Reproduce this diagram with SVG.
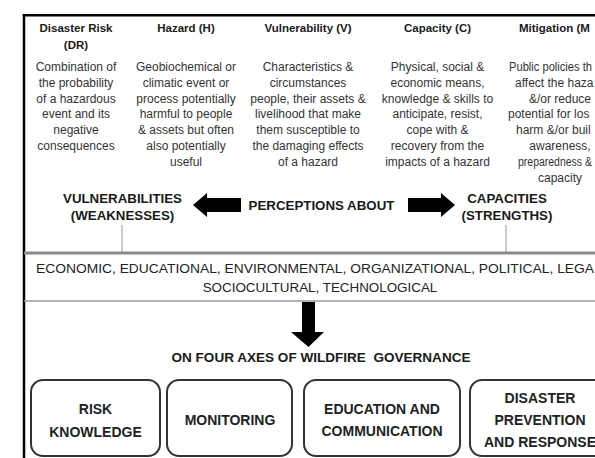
<svg xmlns="http://www.w3.org/2000/svg" width="595" height="458" viewBox="0 0 595 458">
<style>
text{font-family:"Liberation Sans",Arial,sans-serif;}
.t{font-size:11.5px;font-weight:bold;fill:#1a1a1a;text-anchor:middle;}
.d{font-size:12px;fill:#333;text-anchor:middle;}
.ds{font-size:12px;fill:#333;text-anchor:start;}
.h{font-size:13.3px;font-weight:bold;fill:#1a1a1a;text-anchor:middle;}
.b{font-size:13.4px;fill:#222;}
.bx{font-size:14px;font-weight:bold;fill:#222;text-anchor:middle;}
.box{fill:#fff;stroke:#333;stroke-width:2;}
.frame{stroke:#000;stroke-width:2.5;fill:none;}
.gl{stroke:#999;stroke-width:1;}
.arr{fill:#000;}
</style>
<rect width="595" height="458" fill="#fff"/>
<g id="frame">
<line class="frame" x1="22.8" y1="15.3" x2="595" y2="15.3"/>
<line class="frame" x1="24" y1="14" x2="24" y2="458"/>
<line x1="24" y1="253" x2="595" y2="253" stroke="#8a8a8a" stroke-width="3"/>
<line x1="24" y1="301" x2="595" y2="301" stroke="#9a9a9a" stroke-width="1.5"/>
</g>
<g id="col-dr">
<text class="t" x="76" y="32">Disaster Risk</text>
<text class="t" x="76" y="48.5">(DR)</text>
<text class="d" x="76" y="71">Combination of</text>
<text class="d" x="76" y="86.8">the probability</text>
<text class="d" x="76" y="102.6">of a hazardous</text>
<text class="d" x="76" y="118.4">event and its</text>
<text class="d" x="76" y="134.2">negative</text>
<text class="d" x="76" y="150">consequences</text>
</g>
<g id="col-h">
<text class="t" x="186" y="32">Hazard (H)</text>
<text class="d" x="186" y="71">Geobiochemical or</text>
<text class="d" x="186" y="86.8">climatic event or</text>
<text class="d" x="186" y="102.6">process potentially</text>
<text class="d" x="186" y="118.4">harmful to people</text>
<text class="d" x="186" y="134.2">&amp; assets but often</text>
<text class="d" x="186" y="150">also potentially</text>
<text class="d" x="186" y="165.8">useful</text>
</g>
<g id="col-v">
<text class="t" x="308" y="32">Vulnerability (V)</text>
<text class="d" x="308" y="71">Characteristics &amp;</text>
<text class="d" x="308" y="86.8">circumstances</text>
<text class="d" x="308" y="102.6">people, their assets &amp;</text>
<text class="d" x="308" y="118.4">livelihood that make</text>
<text class="d" x="308" y="134.2">them susceptible to</text>
<text class="d" x="308" y="150">the damaging effects</text>
<text class="d" x="308" y="165.8">of a hazard</text>
</g>
<g id="col-c">
<text class="t" x="437.5" y="32">Capacity (C)</text>
<text class="d" x="437.5" y="71">Physical, social &amp;</text>
<text class="d" x="437.5" y="86.8">economic means,</text>
<text class="d" x="437.5" y="102.6">knowledge &amp; skills to</text>
<text class="d" x="437.5" y="118.4">anticipate, resist,</text>
<text class="d" x="437.5" y="134.2">cope with &amp;</text>
<text class="d" x="437.5" y="150">recovery from the</text>
<text class="d" x="437.5" y="165.8">impacts of a hazard</text>
</g>
<g id="col-m">
<text class="t" x="519" y="32" style="text-anchor:start">Mitigation (M</text>
<text class="ds" x="509" y="71" textLength="83" lengthAdjust="spacingAndGlyphs">Public policies th</text>
<text class="ds" x="515" y="86.8">affect the haza</text>
<text class="d" x="560" y="102.6">&amp;/or reduce</text>
<text class="ds" x="508" y="118.4">potential for los</text>
<text class="ds" x="516" y="134.2">harm &amp;/or buil</text>
<text class="d" x="560" y="150">awareness,</text>
<text class="ds" x="518" y="165.8" textLength="74" lengthAdjust="spacingAndGlyphs">preparedness &amp;</text>
<text class="d" x="560" y="181.6">capacity</text>
</g>
<g id="vulnerabilities">
<text class="h" x="122.5" y="202.5">VULNERABILITIES</text>
<text class="h" x="122.5" y="220">(WEAKNESSES)</text>
</g>
<g id="perceptions">
<text class="h" x="321.5" y="210">PERCEPTIONS ABOUT</text>
</g>
<g id="capacities">
<text class="h" x="507" y="202.5">CAPACITIES</text>
<text class="h" x="507" y="220">(STRENGTHS)</text>
</g>
<g id="factors">
<text class="b" x="36" y="273" textLength="558" lengthAdjust="spacingAndGlyphs">ECONOMIC, EDUCATIONAL, ENVIRONMENTAL, ORGANIZATIONAL, POLITICAL, LEGA</text>
<text class="b" x="320" y="292" text-anchor="middle">SOCIOCULTURAL, TECHNOLOGICAL</text>
</g>
<g id="axes-label">
<text class="h" x="321" y="362" font-size="12.5" textLength="299" lengthAdjust="spacingAndGlyphs" style="white-space:pre" xml:space="preserve">ON FOUR AXES OF WILDFIRE  GOVERNANCE</text>
</g>
<g id="box-risk">
<rect class="box" x="31" y="380" width="129" height="76" rx="12"/>
<text class="bx" x="95.5" y="414">RISK</text>
<text class="bx" x="95.5" y="437">KNOWLEDGE</text>
</g>
<g id="box-monitoring">
<rect class="box" x="167" y="380" width="125" height="76" rx="12"/>
<text class="bx" x="230" y="425">MONITORING</text>
</g>
<g id="box-education">
<rect class="box" x="304" y="380" width="156" height="76" rx="12"/>
<text class="bx" x="382" y="414">EDUCATION AND</text>
<text class="bx" x="382" y="436">COMMUNICATION</text>
</g>
<g id="box-disaster">
<rect class="box" x="470" y="380" width="140" height="76" rx="12"/>
<text class="bx" x="540" y="402.5">DISASTER</text>
<text class="bx" x="540" y="424.5">PREVENTION</text>
<text class="bx" x="540" y="446.5">AND RESPONSE</text>
</g>
<g id="connectors">
<line class="gl" x1="122" y1="225" x2="122" y2="252"/>
<line class="gl" x1="506" y1="225" x2="506" y2="252"/>
<polygon class="arr" points="193,205 207,193 207,198 241,198 241,212 207,212 207,217"/>
<polygon class="arr" points="455,205 441,193 441,198 408,198 408,212 441,212 441,217"/>
<polygon class="arr" points="302,302 315,302 315,332 324,332 308.5,347 291,332 302,332"/>
</g>
</svg>
